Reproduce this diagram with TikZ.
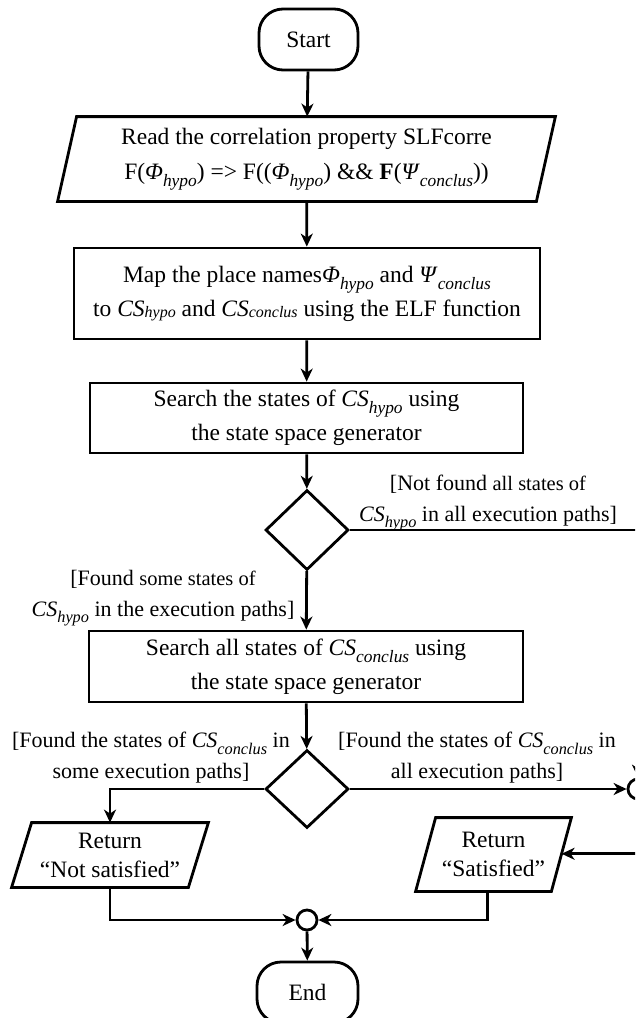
\documentclass[tikz,border=0pt]{standalone}
\usepackage{fontspec}
\usepackage{graphicx}
\setmainfont{Liberation Serif}
\usetikzlibrary{arrows.meta,shapes.geometric,calc}

% italic subscript, and the small run-in index used in the mapping box
\newcommand{\sub}[1]{\raisebox{-0.3em}{\scalebox{0.74}{\itshape #1}}}
\newcommand{\lowsub}[1]{\raisebox{-0.05em}{\scalebox{0.68}{\itshape #1}}}
% the smaller words inside the guard labels
\newcommand{\smw}[1]{{\fontsize{20.5}{31}\selectfont #1}}
% slanted input/output outline drawn around a plain node
\newcommand{\iopath}[2]{\draw ($(#1.north west)+(#2,0)$) -- (#1.north east) -- ($(#1.south east)+(-#2,0)$) -- (#1.south west) -- cycle;}

\begin{document}
\begin{tikzpicture}[x=1pt,y=-1pt,
  line width=2.8pt,
  box/.style={draw, rectangle, inner sep=0pt, align=center, font=\fontsize{23.5}{34}\selectfont},
  term/.style={box, rounded corners=24pt},
  iobox/.style={rectangle, inner sep=0pt, align=center, font=\fontsize{23.5}{35}\selectfont},
  retbox/.style={iobox, font=\fontsize{23.5}{29}\selectfont},
  decision/.style={draw, diamond, inner sep=0pt},
  joint/.style={draw, circle, inner sep=0pt, minimum size=20pt},
  guard/.style={align=center, inner sep=0pt, font=\fontsize{22}{31}\selectfont},
  flow/.style={-{Stealth[length=13pt,width=12pt,inset=4pt]}}
]
\useasboundingbox (0,0) rectangle (635,1018);
\clip (0,0) rectangle (635,1018);

% main column
\node[term, minimum width=99pt, minimum height=61pt] (start) at (308.5,39.5) {Start};
\node[iobox, minimum width=495pt, minimum height=82pt] (read) at (306.5,159)
  {Read the correlation property SLFcorre\\
   F(\textit{Φ}\sub{hypo}) => F((\textit{Φ}\sub{hypo}) \&\& \textbf{F}(\textit{Ψ}\sub{conclus}))};
\iopath{read}{19}
\node[box, minimum width=466pt, minimum height=91pt] (map) at (307,293.5)
  {Map the place names\textit{Φ}\sub{hypo} and \textit{Ψ}\sub{conclus}\\
   to \textit{CS}\lowsub{hypo} and \textit{CS}\lowsub{conclus} using the ELF function};
\node[box, minimum width=433pt, minimum height=70pt] (srch1) at (306.5,418)
  {Search the states of \textit{CS}\sub{hypo} using\\ the state space generator};
\node[decision, minimum width=83pt, minimum height=80pt] (dec1) at (307,530) {};
\node[box, minimum width=434pt, minimum height=71pt] (srch2) at (306,666.5)
  {Search all states of \textit{CS}\sub{conclus} using\\ the state space generator};
\node[decision, minimum width=83pt, minimum height=78pt] (dec2) at (307,789) {};

% results
\node[retbox, minimum width=194pt, minimum height=62pt] (nsat) at (110,855) {Return\\ “Not satisfied”};
\iopath{nsat}{20}
\node[retbox, minimum width=153pt, minimum height=71pt] (sat) at (493.5,854.5) {Return\\ “Satisfied”};
\iopath{sat}{20}
\node[joint] (join) at (307,920) {};
\node[joint] (rjoin) at (638,789) {};
\node[term, minimum width=101pt, minimum height=61pt] (end) at (307.5,992.5) {End};

% guard labels
\node[guard] (g1) at (488,503) {[Not found \smw{all states of}\\ \textit{CS}\sub{hypo} in all execution paths]};
\node[guard] (g2) at (163,598) {[Found \smw{some states of}\\ \textit{CS}\sub{hypo} in the execution paths]};
\node[guard] (g3) at (151,758) {[Found the states of \textit{CS}\sub{conclus} in\\ some execution paths]};
\node[guard] (g4) at (477,758) {[Found the states of \textit{CS}\sub{conclus} in\\ all execution paths]};

% connectors
\draw[flow] (start) -- (read);
\draw[flow] (read) -- (map);
\draw[flow] (map) -- (srch1);
\draw[flow] (srch1) -- (dec1);
\draw[flow] (dec1) -- (srch2);
\draw[flow] (srch2) -- (dec2);
\draw[flow] (dec1.east) -| (rjoin.north);
\draw[flow] (dec2.east) -- (rjoin.west);
\draw[flow] (dec2.west) -| (nsat.north);
\coordinate (satR) at ($(sat.north east)!0.49!([xshift=-20pt]sat.south east)$);
\draw[flow] (rjoin.south) |- (satR);
\coordinate (satB) at ($(sat.south)+(-6,0)$);
\draw[flow] (nsat.south) |- (join.west);
\draw[flow] (satB) |- (join.east);
\draw[flow] (join) -- (end);
\end{tikzpicture}
\end{document}
